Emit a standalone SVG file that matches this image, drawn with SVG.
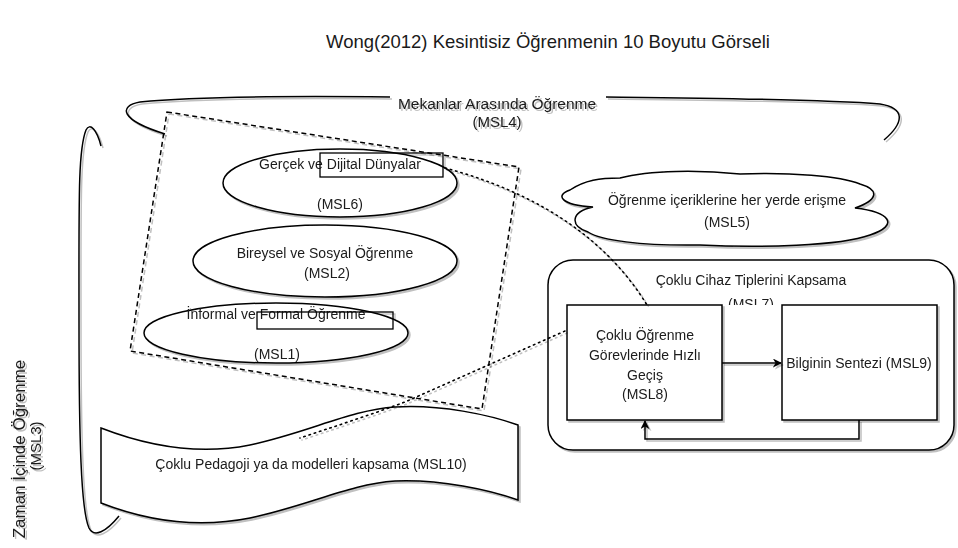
<svg xmlns="http://www.w3.org/2000/svg" width="958" height="548" viewBox="0 0 958 548">
<defs>
<style>
text{font-family:"Liberation Sans",Arial,sans-serif;font-size:14px;fill:#1a1a1a;text-anchor:middle}
.title{font-size:18.5px}
.ln{fill:none;stroke:#000;stroke-width:1.5}
.sh{fill:#fff;stroke:#000;stroke-width:1.5}
.dot{fill:none;stroke:#000;stroke-width:1.6;stroke-dasharray:1.5 4;stroke-linecap:round}
.dash{fill:none;stroke:#000;stroke-width:1.5;stroke-dasharray:5 3.5}
.thin{fill:none;stroke:#000;stroke-width:1.3}
</style>
<filter id="shadow" x="-10%" y="-10%" width="125%" height="130%">
<feOffset in="SourceAlpha" dx="2" dy="2" result="o"/>
<feComponentTransfer in="o" result="oa"><feFuncA type="linear" slope="0.25"/></feComponentTransfer>
<feMerge><feMergeNode in="oa"/><feMergeNode in="SourceGraphic"/></feMerge>
</filter>
<marker id="arr" viewBox="0 0 10 10" refX="9" refY="5" markerWidth="9" markerHeight="9" markerUnits="userSpaceOnUse" orient="auto">
<path d="M0,0 L10,5 L0,10 L3,5 Z" fill="#000"/>
</marker>
<clipPath id="clip7"><rect x="600" y="260" width="300" height="45"/></clipPath>
</defs>

<rect width="958" height="548" fill="#fff"/>

<g id="title"><text class="title" x="548" y="48">Wong(2012) Kesintisiz Öğrenmenin 10 Boyutu Görseli</text></g>

<g id="msl4" filter="url(#shadow)">
<path class="ln" d="M390,97 C300,96 200,96 140,102 C118,106 120,120 165,134"/>
<path class="ln" d="M606,97 C700,98 820,99 880,104 C905,108 905,122 884,140"/>
<text x="497" y="109" style="font-size:15.5px">Mekanlar Arasında Öğrenme</text>
<text x="497" y="127" style="font-size:15px">(MSL4)</text>
</g>

<g id="msl3" filter="url(#shadow)">
<path class="ln" d="M101,146 C97,130 90,122 86,130 C78,150 79,200 79,320 C79,440 81,510 89,528 C94,538 106,532 119,516"/>
<text transform="translate(25,449) rotate(-90)" style="font-size:17px">Zaman İçinde Öğrenme</text>
<text transform="translate(41,446) rotate(-90)" style="font-size:15px">(MSL3)</text>
</g>

<g id="group-msl" filter="url(#shadow)">
<polygon class="dash" points="167,112 519,167 482,409 130,351"/>
</g>

<g id="msl6" filter="url(#shadow)">
<ellipse class="sh" cx="340" cy="183" rx="117" ry="34"/>
<text x="340" y="169">Gerçek ve Dijital Dünyalar</text>
<text x="340" y="209">(MSL6)</text>
<rect class="thin" x="320" y="153" width="123" height="24"/>
</g>

<g id="msl2" filter="url(#shadow)">
<ellipse class="sh" cx="325" cy="261" rx="132" ry="36"/>
<text x="325" y="258">Bireysel ve Sosyal Öğrenme</text>
<text x="327" y="278">(MSL2)</text>
</g>

<g id="msl1" filter="url(#shadow)">
<ellipse class="sh" cx="276" cy="333" rx="132" ry="30"/>
<text x="276" y="319">İnformal ve Formal Öğrenme</text>
<text x="277" y="359">(MSL1)</text>
<rect class="thin" x="257" y="312" width="136" height="17"/>
</g>

<g id="msl10" filter="url(#shadow)">
<path class="sh" d="M101,428 C150,447 200,455 250,445 C310,432 350,410 395,407 C440,404 490,415 518,425 L518,500 C490,490 440,479 395,481 C350,484 310,505 250,518 C200,528 150,522 101,503 Z"/>
<text x="311" y="469">Çoklu Pedagoji ya da modelleri kapsama (MSL10)</text>
</g>

<g id="msl5" filter="url(#shadow)">
<path class="sh" d="M593,207 C560,205 555,195 570,190 C585,180 600,178 620,178 C650,170 700,170 740,174 C790,172 840,176 860,184 C880,190 878,200 855,208 C890,212 900,225 870,235 C840,246 760,248 700,245 C640,246 600,240 588,232 C570,226 570,212 593,207 Z"/>
<text x="727" y="205">Öğrenme içeriklerine her yerde erişme</text>
<text x="727" y="227">(MSL5)</text>
</g>

<g id="msl7" filter="url(#shadow)">
<rect class="sh" x="548" y="260" width="406" height="190" rx="25" ry="25"/>
<text x="751" y="285">Çoklu Cihaz Tiplerini Kapsama</text>
<text x="751" y="309" clip-path="url(#clip7)">(MSL7)</text>
</g>

<g id="msl8" filter="url(#shadow)">
<rect class="sh" x="567" y="305" width="155" height="115"/>
<text x="645" y="340">Çoklu Öğrenme</text>
<text x="645" y="360">Görevlerinde Hızlı</text>
<text x="645" y="380">Geçiş</text>
<text x="645" y="399">(MSL8)</text>
</g>

<g id="msl9" filter="url(#shadow)">
<rect class="sh" x="782" y="305" width="155" height="115"/>
<text x="859" y="368">Bilginin Sentezi (MSL9)</text>
</g>

<g id="connectors" filter="url(#shadow)">
<path class="ln" d="M722,363 L781,363" marker-end="url(#arr)"/>
<path class="ln" d="M859,420 V439 H645 V421" marker-end="url(#arr)"/>
<path class="dot" d="M445,168 C520,188 600,228 647,305"/>
<path class="dot" d="M565,331 L405,402 C370,415 330,428 300,438"/>
</g>
</svg>
